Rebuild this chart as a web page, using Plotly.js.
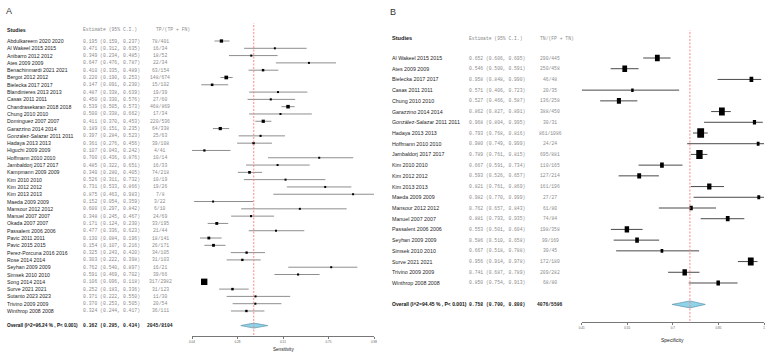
<!DOCTYPE html>
<html>
<head>
<meta charset="utf-8">
<script src="https://cdn.plot.ly/plotly-3.0.1.min.js"></script>
<style>
  html, body { margin: 0; padding: 0; background: #fff; }
  #chart { width: 769px; height: 356px; }
</style>
</head>
<body>
<div id="chart"></div>
<script>
// ---- Sensitivity (panel A) ----
const sensStudies = ["Abdulkareem 2020 2020","Al Wakeel 2015 2015","Anibarro 2012 2012","Ates 2009 2009","Benachinmardi 2021 2021","Bergot 2012 2012","Bielecka 2017 2017","Blandinieres 2013 2013","Casas 2011 2011","Chandrasekaran 2018 2018","Chung 2010 2010","Dominguez 2007 2007","Garazzino 2014 2014","Gonzalez-Salazar 2011 2011","Hadaya 2013 2013","Higuchi 2009 2009","Hoffmann 2010 2010","Jambaldorj 2017 2017","Kampmann 2009 2009","Kim 2010 2010","Kim 2012 2012","Kim 2013 2013","Maeda 2009 2009","Mansour 2012 2012","Manuel 2007 2007","Okada 2007 2007","Passalent 2006 2006","Pavic 2011 2011","Pavic 2015 2015","Perez-Porcuna 2016 2016","Rose 2014 2014","Seyhan 2009 2009","Simsek 2010 2010","Song 2014 2014","Surve 2021 2021","Sutanto 2023 2023","Trivino 2009 2009","Winthrop 2008 2008"];
const sensEst = [0.195,0.471,0.349,0.647,0.410,0.220,0.147,0.487,0.450,0.539,0.500,0.411,0.189,0.397,0.361,0.107,0.700,0.485,0.340,0.526,0.731,0.875,0.152,0.600,0.348,0.171,0.477,0.130,0.154,0.325,0.303,0.762,0.591,0.106,0.252,0.371,0.370,0.324];
const sensLo = [0.159,0.312,0.234,0.476,0.335,0.190,0.091,0.338,0.330,0.505,0.338,0.370,0.151,0.284,0.276,0.043,0.436,0.322,0.280,0.311,0.533,0.463,0.054,0.297,0.245,0.124,0.336,0.084,0.107,0.243,0.222,0.540,0.469,0.096,0.183,0.222,0.253,0.244];
const sensHi = [0.237,0.635,0.485,0.787,0.489,0.253,0.230,0.639,0.576,0.573,0.662,0.453,0.235,0.523,0.456,0.242,0.876,0.651,0.405,0.732,0.866,0.983,0.359,0.842,0.467,0.230,0.623,0.196,0.216,0.420,0.398,0.897,0.702,0.118,0.336,0.550,0.505,0.417];
const sensCounts = ["78/401","16/34","18/52","22/34","63/154","148/674","15/102","19/39","27/60","468/869","17/34","220/536","64/338","25/63","39/108","4/41","10/14","16/33","74/218","10/19","19/26","7/8","3/22","6/10","24/69","33/195","21/44","18/141","26/171","34/105","31/103","16/21","39/66","317/2982","31/123","11/30","20/54","36/111"];
const sensPooled = [0.362, 0.295, 0.434];
const sensPooledLabel = "Overall (I^2=96.24 % , P< 0.001)";
const sensPooledCount = "2045/8104";
const sensTickLabels = ["0.04","0.28","0.51","0.75","0.98"];

// ---- Specificity (panel B) ----
const specStudies = ["Al Wakeel 2015 2015","Ates 2009 2009","Bielecka 2017 2017","Casas 2011 2011","Chung 2010 2010","Garazzino 2014 2014","González-Salazar 2011 2011","Hadaya 2013 2013","Hoffmann 2010 2010","Jambaldorj 2017 2017","Kim 2010 2010","Kim 2012 2012","Kim 2013 2013","Maeda 2009 2009","Mansour 2012 2012","Manuel 2007 2007","Passalent 2006 2006","Seyhan 2009 2009","Simsek 2010 2010","Surve 2021 2021","Trivino 2009 2009","Winthrop 2008 2008"];
const specEst = [0.652,0.546,0.958,0.571,0.527,0.862,0.968,0.793,0.980,0.789,0.667,0.593,0.821,0.982,0.762,0.881,0.553,0.586,0.667,0.956,0.741,0.850];
const specLo = [0.606,0.500,0.848,0.406,0.466,0.827,0.804,0.768,0.749,0.761,0.591,0.526,0.761,0.770,0.657,0.793,0.501,0.510,0.518,0.914,0.687,0.754];
const specHi = [0.695,0.591,0.990,0.723,0.587,0.891,0.995,0.816,0.999,0.815,0.734,0.657,0.869,0.999,0.843,0.935,0.604,0.658,0.788,0.978,0.789,0.913];
const specCounts = ["290/445","250/458","46/48","20/35","136/258","388/450","30/31","861/1086","24/24","695/881","110/165","127/214","161/196","27/27","61/80","74/84","198/358","99/169","30/45","172/180","209/282","68/80"];
const specPooled = [0.758, 0.700, 0.808];
const specPooledLabel = "Overall (I^2=94.45 % , P< 0.001)";
const specPooledCount = "4076/5596";
const specTickLabels = ["0.41","0.55","0.7","0.85","1"];

const W = 769, H = 356;
const SANS = "Liberation Sans, Arial, sans-serif";
const MONO = "Liberation Mono, DejaVu Sans Mono, monospace";

// pixel geometry of each panel
const geomA = {
  letter: "A", letterX: 5, letterY: 11, letterSize: 9,
  xPx: [192, 374], axisY: 336, rowTop: 41, rowStep: 7.297, headerY: 30, refTop: 23,
  nameX: 6, estX: 82, countX: 160, countHeadX: 155,
  nameSize: 5.2, pooledSize: 4.75, monoSize: 4.75, headSize: 5.2,
  tickSize: 3, titleY: 349.5, titleSize: 4.6,
  ciColor: "#8e8e8e", diamondHalf: 2.5,
  boxSize: w => Math.max(2, 1 + 0.17 * Math.cbrt(w)), boxAspect: 1,
  countHead: "TP/(TP + FN)"
};
const geomB = {
  letter: "B", letterX: 389, letterY: 12, letterSize: 9,
  xPx: [581.7, 764], axisY: 322, rowTop: 58, rowStep: 10.714, headerY: 38, refTop: 30,
  nameX: 391, estX: 468, countX: 550, countHeadX: 539,
  nameSize: 5.3, pooledSize: 5, monoSize: 4.7, headSize: 5.6,
  tickSize: 3, titleY: 339.5, titleSize: 5,
  ciColor: "#4a4a4a", diamondHalf: 3.5,
  boxSize: w => Math.max(2.5, 0.8 + 0.32 * Math.cbrt(w)), boxAspect: 1.4,
  countHead: "TN/(FP + TN)"
};

const fmt = v => v.toFixed(3);
const py = px => 1 - px / H;

function panel(d, g, xName, yName, axisTitle) {
  const n = d.studies.length;
  const rows = d.studies.map((_, i) => i);
  const pooledRow = n + 1;
  const lo = Math.min(...d.lo), hi = Math.max(...d.hi);
  const nt = d.tickLabels.length;
  const tickvals = d.tickLabels.map((_, i) => lo + (hi - lo) * i / (nt - 1));

  const xaxis = {
    domain: [g.xPx[0] / W, g.xPx[1] / W], range: [lo, hi], anchor: "free", position: 1 - g.axisY / H,
    showline: true, linecolor: "#555", linewidth: 0.8, ticks: "outside", ticklen: 2.5, tickwidth: 0.8,
    tickcolor: "#555", tickvals, ticktext: d.tickLabels, tickfont: { family: SANS, size: g.tickSize, color: "#555" },
    showgrid: false, zeroline: false, fixedrange: true
  };
  const yaxis = {
    domain: [0, 1], range: [(H - g.rowTop) / g.rowStep, -g.rowTop / g.rowStep], visible: false,
    anchor: xName, fixedrange: true
  };

  const traces = [];
  // confidence intervals
  traces.push({
    type: "scatter", mode: "markers", x: d.est, y: rows, xaxis: xName, yaxis: yName,
    marker: { size: 1, color: "rgba(0,0,0,0)" }, cliponaxis: false, hoverinfo: "skip", showlegend: false,
    error_x: { type: "data", symmetric: false, array: d.est.map((v, i) => d.hi[i] - v),
               arrayminus: d.est.map((v, i) => v - d.lo[i]), width: 0, thickness: 1, color: g.ciColor }
  });
  // pooled estimate diamond
  const dh = g.diamondHalf / g.rowStep;
  const [pe, pl, ph] = d.pooled;
  traces.push({
    type: "scatter", mode: "lines", xaxis: xName, yaxis: yName, showlegend: false, hoverinfo: "skip",
    x: [pl, pe, ph, pe, pl], y: [pooledRow, pooledRow - dh, pooledRow, pooledRow + dh, pooledRow],
    fill: "toself", fillcolor: "#8fd3e8", line: { color: "#5f93ab", width: 0.7 }
  });

  const shapes = [];
  // study boxes, sized by inverse-variance weight
  d.est.forEach((v, i) => {
    const wgt = Math.pow(3.92 / (d.hi[i] - d.lo[i]), 2);
    const s = g.boxSize(wgt);
    const h = s * g.boxAspect;
    shapes.push({
      type: "rect", xref: xName, yref: yName, xsizemode: "pixel", ysizemode: "pixel",
      xanchor: v, yanchor: rows[i], x0: -s / 2, x1: s / 2, y0: -h / 2, y1: h / 2,
      fillcolor: "#000", line: { width: 0 }, layer: "above"
    });
  });
  // pooled reference line
  shapes.push({
    type: "line", xref: xName, yref: "paper", x0: pe, x1: pe, y0: py(g.axisY - 1), y1: py(g.refTop),
    line: { color: "#ff7a7a", width: 0.9, dash: "2px,1.5px" }, layer: "above"
  });

  const ann = [];
  const A = (xpx, y, yref, text, font, xanchor) => ann.push({
    x: xpx / W, xref: "paper", y, yref, text, font, xanchor, yanchor: "middle",
    showarrow: false, borderpad: 0
  });
  const nameF = { family: SANS, size: g.nameSize, color: "#262626" };
  const monoF = { family: MONO, size: g.monoSize, color: "#8a8a8a" };

  A(g.letterX, py(g.letterY), "paper", g.letter, { family: SANS, size: g.letterSize, color: "#333" }, "left");
  A(g.nameX, py(g.headerY), "paper", "<b>Studies</b>", { family: SANS, size: g.headSize, color: "#222" }, "left");
  A(g.estX, py(g.headerY), "paper", "Estimate (95% C.I.)", monoF, "left");
  A(g.countHeadX, py(g.headerY), "paper", g.countHead, monoF, "left");

  d.studies.forEach((s, i) => {
    A(g.nameX, rows[i], yName, s, nameF, "left");
    A(g.estX, rows[i], yName, `${fmt(d.est[i])} (${fmt(d.lo[i])}, ${fmt(d.hi[i])})`, monoF, "left");
    A(g.countX, rows[i], yName, d.counts[i], monoF, "center");
  });

  const boldName = { family: SANS, size: g.pooledSize, color: "#111" };
  const boldMono = { family: MONO, size: g.monoSize, color: "#222" };
  A(g.nameX, pooledRow, yName, `<b>${d.pooledLabel}</b>`, boldName, "left");
  A(g.estX, pooledRow, yName, `<b>${fmt(pe)} (${fmt(pl)}, ${fmt(ph)})</b>`, boldMono, "left");
  A(g.countX, pooledRow, yName, `<b>${d.pooledCount}</b>`, boldMono, "center");

  A((g.xPx[0] + g.xPx[1]) / 2, py(g.titleY), "paper", axisTitle,
    { family: SANS, size: g.titleSize, color: "#222" }, "center");

  return { traces, shapes, ann, xaxis, yaxis };
}

const pA = panel({ studies: sensStudies, est: sensEst, lo: sensLo, hi: sensHi, counts: sensCounts,
  pooled: sensPooled, pooledLabel: sensPooledLabel, pooledCount: sensPooledCount, tickLabels: sensTickLabels },
  geomA, "x", "y", "Sensitivity");
const pB = panel({ studies: specStudies, est: specEst, lo: specLo, hi: specHi, counts: specCounts,
  pooled: specPooled, pooledLabel: specPooledLabel, pooledCount: specPooledCount, tickLabels: specTickLabels },
  geomB, "x2", "y2", "Specificity");

const layout = {
  width: W, height: H, margin: { l: 0, r: 0, t: 0, b: 0 },
  paper_bgcolor: "#fff", plot_bgcolor: "rgba(0,0,0,0)", showlegend: false,
  xaxis: pA.xaxis, yaxis: pA.yaxis, xaxis2: pB.xaxis, yaxis2: pB.yaxis,
  shapes: pA.shapes.concat(pB.shapes),
  annotations: pA.ann.concat(pB.ann)
};

Plotly.newPlot("chart", pA.traces.concat(pB.traces), layout, { staticPlot: true, displayModeBar: false });
</script>
</body>
</html>
